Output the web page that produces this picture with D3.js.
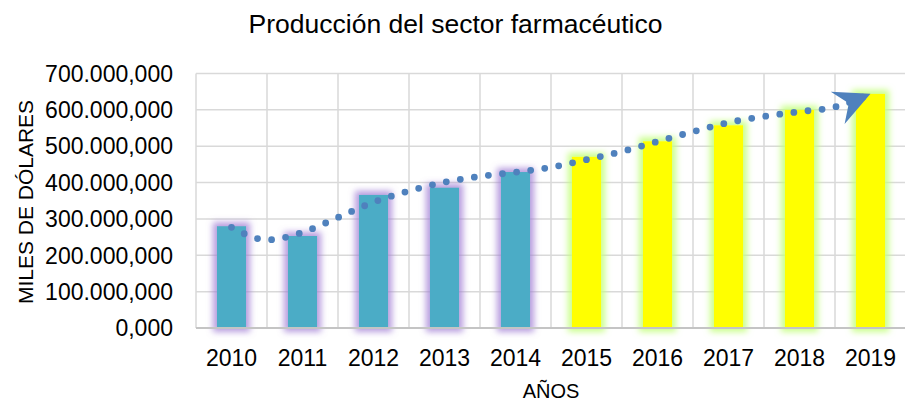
<!DOCTYPE html>
<html>
<head>
<meta charset="utf-8">
<script src="https://cdn.jsdelivr.net/npm/d3@7/dist/d3.min.js"></script>
<style>
  html, body { margin: 0; padding: 0; background: #fff; }
  svg { display: block; font-family: "Liberation Sans", Arial, sans-serif; }
</style>
</head>
<body>
<svg id="chart" width="905" height="401"></svg>
<script>
// ---- data ----
const years = ["2010","2011","2012","2013","2014","2015","2016","2017","2018","2019"];
const production = [280000, 253000, 366000, 386000, 429000, 471000, 514000, 558000, 600000, 644000];
const forecastFrom = "2015";
const trendYears = [2010, 2010.5, 2011, 2011.5, 2012, 2012.5, 2013, 2013.5, 2014, 2014.5,
                    2015, 2015.5, 2016, 2016.5, 2017, 2017.5, 2018, 2018.5, 2019];
const trendValues = [277000, 242500, 263000, 304000, 346000, 377000, 401000, 417000, 428500, 442000,
                     463000, 485500, 513000, 540000, 565000, 582000, 595000, 608000, 644000];
const yTicks = [0, 100000, 200000, 300000, 400000, 500000, 600000, 700000];
const title = "Producción del sector farmacéutico";
const yTitle = "MILES DE DÓLARES";
const xTitle = "AÑOS";

(function () {
// ---- layout ----
const svg = d3.select("#chart");
const L = 196, R = 906, T = 73.5, B = 328;

const x = d3.scaleBand().domain(years).range([L, R]).padding(0);
const xBar = d3.scaleBand().domain(years).range([L, R]).paddingInner(0.59).paddingOuter(0.295);
const y = d3.scaleLinear().domain([0, 700000]).range([B, T]);
const xYear = d3.scaleLinear().domain([2010, 2019])
  .range([x("2010") + x.bandwidth() / 2, x("2019") + x.bandwidth() / 2]);

const locale = d3.formatLocale({decimal: ",", thousands: ".", grouping: [3], currency: ["", ""]});
const fmt = locale.format(",.3f");

// ---- filters (glow) ----
const defs = svg.append("defs");
function glow(id, color, opacity) {
  const f = defs.append("filter").attr("id", id)
    .attr("x", "-80%").attr("y", "-30%").attr("width", "260%").attr("height", "160%");
  f.append("feMorphology").attr("in", "SourceAlpha").attr("operator", "dilate").attr("radius", 4).attr("result", "d");
  f.append("feGaussianBlur").attr("in", "d").attr("stdDeviation", 3.2).attr("result", "b");
  f.append("feFlood").attr("flood-color", color).attr("flood-opacity", opacity).attr("result", "c");
  f.append("feComposite").attr("in", "c").attr("in2", "b").attr("operator", "in").attr("result", "g");
  const m = f.append("feMerge");
  m.append("feMergeNode").attr("in", "g");
  m.append("feMergeNode").attr("in", "SourceGraphic");
}
glow("glowPurple", "#a07cd4", 0.75);
glow("glowGreen", "#c4ff80", 0.9);

// ---- grid ----
const grid = svg.append("g");
grid.selectAll("line.h").data(yTicks.filter(d => d > 0)).join("line")
  .attr("x1", L).attr("x2", R)
  .attr("y1", d => y(d)).attr("y2", d => y(d))
  .attr("stroke", "#d9d9d9").attr("stroke-width", 1.5);
grid.selectAll("line.v").data(years).join("line")
  .attr("x1", d => x(d)).attr("x2", d => x(d))
  .attr("y1", T).attr("y2", B)
  .attr("stroke", "#d9d9d9").attr("stroke-width", 1.5);

// ---- bars ----
svg.append("g").selectAll("rect").data(years).join("rect")
  .attr("x", d => xBar(d))
  .attr("width", xBar.bandwidth())
  .attr("y", (d, i) => y(production[i]))
  .attr("height", (d, i) => B - y(production[i]))
  .attr("fill", d => d >= forecastFrom ? "#ffff00" : "#4bacc6")
  .attr("filter", d => d >= forecastFrom ? "url(#glowGreen)" : "url(#glowPurple)");

// ---- bottom axis line ----
svg.append("line").attr("x1", L).attr("x2", R).attr("y1", B).attr("y2", B)
  .attr("stroke", "#c4c4c4").attr("stroke-width", 2);

// ---- trend line ----
const pts = trendYears.map((t, i) => [xYear(t), y(trendValues[i])]);
svg.append("path")
  .attr("d", d3.line().curve(d3.curveMonotoneX)(pts))
  .attr("fill", "none")
  .attr("stroke", "#4f81bd")
  .attr("stroke-width", 6.8)
  .attr("stroke-linecap", "round")
  .attr("stroke-dasharray", "0 14.2");

// arrow head
const pA = pts[pts.length - 2], pB = pts[pts.length - 1];
const ang = Math.atan2(pB[1] - pA[1], pB[0] - pA[0]) * 180 / Math.PI - 3;
svg.append("path")
  .attr("d", "M0,0 L-35.7,-17.5 L-23.6,0 L-35.7,17.5 Z")
  .attr("fill", "#4f81bd")
  .attr("transform", `translate(${pB[0]},${pB[1]}) rotate(${ang})`);

// ---- y axis labels ----
svg.append("g").selectAll("text").data(yTicks).join("text")
  .attr("x", 173).attr("y", d => y(d)).attr("dy", "0.36em")
  .attr("text-anchor", "end")
  .attr("font-size", 23).attr("fill", "#000")
  .text(d => fmt(d));

// ---- x axis labels ----
svg.append("g").selectAll("text").data(years).join("text")
  .attr("x", d => x(d) + x.bandwidth() / 2).attr("y", 366)
  .attr("text-anchor", "middle")
  .attr("font-size", 23).attr("fill", "#000")
  .text(d => d);

// ---- titles ----
svg.append("text").attr("x", 455.5).attr("y", 33).attr("text-anchor", "middle")
  .attr("font-size", 26.5).attr("fill", "#000").text(title);
svg.append("text").attr("transform", "translate(33,202) rotate(-90)")
  .attr("text-anchor", "middle").attr("font-size", 21).attr("fill", "#000").text(yTitle);
svg.append("text").attr("x", 551).attr("y", 398).attr("text-anchor", "middle")
  .attr("font-size", 20).attr("fill", "#000").text(xTitle);
})();
</script>
</body>
</html>
